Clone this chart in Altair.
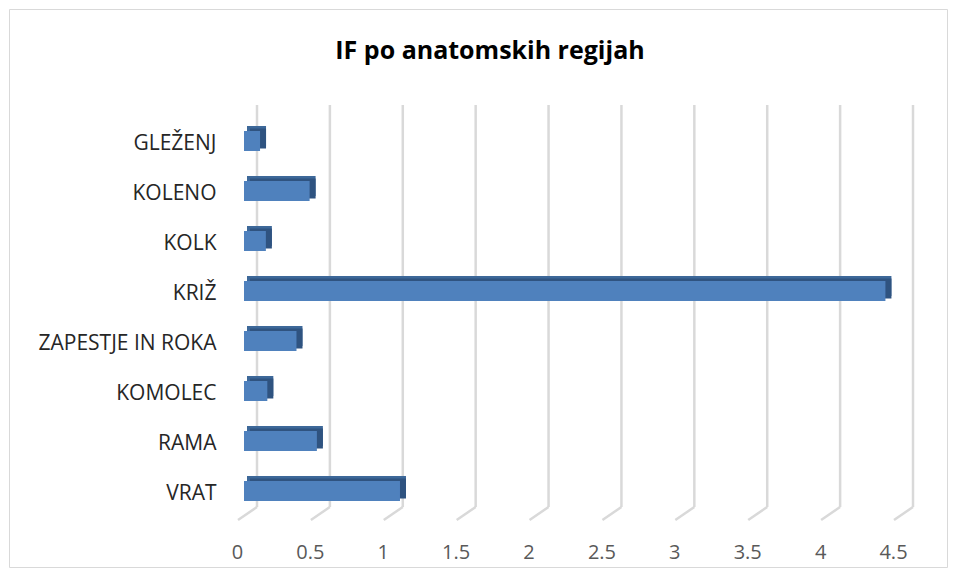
import altair as alt
import pandas as pd

categories = ["GLEŽENJ", "KOLENO", "KOLK", "KRIŽ", "ZAPESTJE IN ROKA", "KOMOLEC", "RAMA", "VRAT"]
values = [0.11, 0.45, 0.15, 4.40, 0.36, 0.16, 0.50, 1.07]
ticks = [0, 0.5, 1, 1.5, 2, 2.5, 3, 3.5, 4, 4.5]
title_text = "IF po anatomskih regijah"

df = pd.DataFrame({"cat": categories, "val": values, "zero": [0] * len(values)})
tdf = pd.DataFrame({"t": ticks})

FONT = "Open Sans"
xs = alt.Scale(domain=[0, 4.5], nice=False, zero=True)
ys = alt.Scale(domain=categories, range=[11, 411], paddingInner=0.6, paddingOuter=0.3)

x_axis = alt.Axis(values=ticks, grid=False, ticks=False, domain=False, labelFont=FONT,
                  labelFontSize=20, labelColor="#595959", labelPadding=22, labelOffset=-7,
                  title=None, labelFlush=False, labelExpr="datum.value")
y_axis = alt.Axis(ticks=False, domain=False, grid=False, labelFont=FONT, labelFontSize=21,
                  labelColor="#262626", labelPadding=28, labelOffset=3, title=None)

grid = alt.Chart(tdf).mark_rule(color="#d9d9d9", strokeWidth=2.5, xOffset=13).encode(
    x=alt.X("t:Q", scale=xs, axis=x_axis),
    y=alt.value(0), y2=alt.value(402))
floor = alt.Chart(tdf).mark_rule(color="#d9d9d9", strokeWidth=2.5, xOffset=13, x2Offset=-6).encode(
    x=alt.X("t:Q", scale=xs), x2="t:Q",
    y=alt.value(402), y2=alt.value(415))

back = alt.Chart(df).mark_bar(color="#3d6899", xOffset=3, x2Offset=6, yOffset=-5).encode(
    y=alt.Y("cat:N", scale=ys, axis=y_axis, sort=categories),
    x=alt.X("zero:Q", scale=xs), x2="val:Q")
side = alt.Chart(df).mark_bar(color="#2f5380", xOffset=6, x2Offset=6, yOffset=-2.5).encode(
    y=alt.Y("cat:N", scale=ys, sort=categories),
    x=alt.X("zero:Q", scale=xs), x2="val:Q")
front = alt.Chart(df).mark_bar(color="#4f81bd").encode(
    y=alt.Y("cat:N", scale=ys, sort=categories),
    x=alt.X("zero:Q", scale=xs), x2="val:Q")

title = alt.Chart(pd.DataFrame({"t": [title_text]})).mark_text(
    font=FONT, fontSize=25, fontWeight="bold", color="#000000", align="center",
    baseline="alphabetic").encode(text="t:N", x=alt.value(246), y=alt.value(-46))

border = alt.Chart(pd.DataFrame({"a": [0]})).mark_rect(
    fill=None, fillOpacity=0, stroke="#d9d9d9", strokeWidth=1).encode(
    x=alt.value(-234.5), x2=alt.value(703.5), y=alt.value(-95.5), y2=alt.value(462.5))

chart = alt.layer(border, grid, floor, back, side, front, title).properties(
    width=656, height=415,
    autosize=alt.AutoSizeParams(type="none"),
    padding={"left": 236, "top": 97, "right": 48, "bottom": 48},
).configure_view(stroke=None)

chart.save("out.html", embed_options={"renderer": "svg", "actions": False})
